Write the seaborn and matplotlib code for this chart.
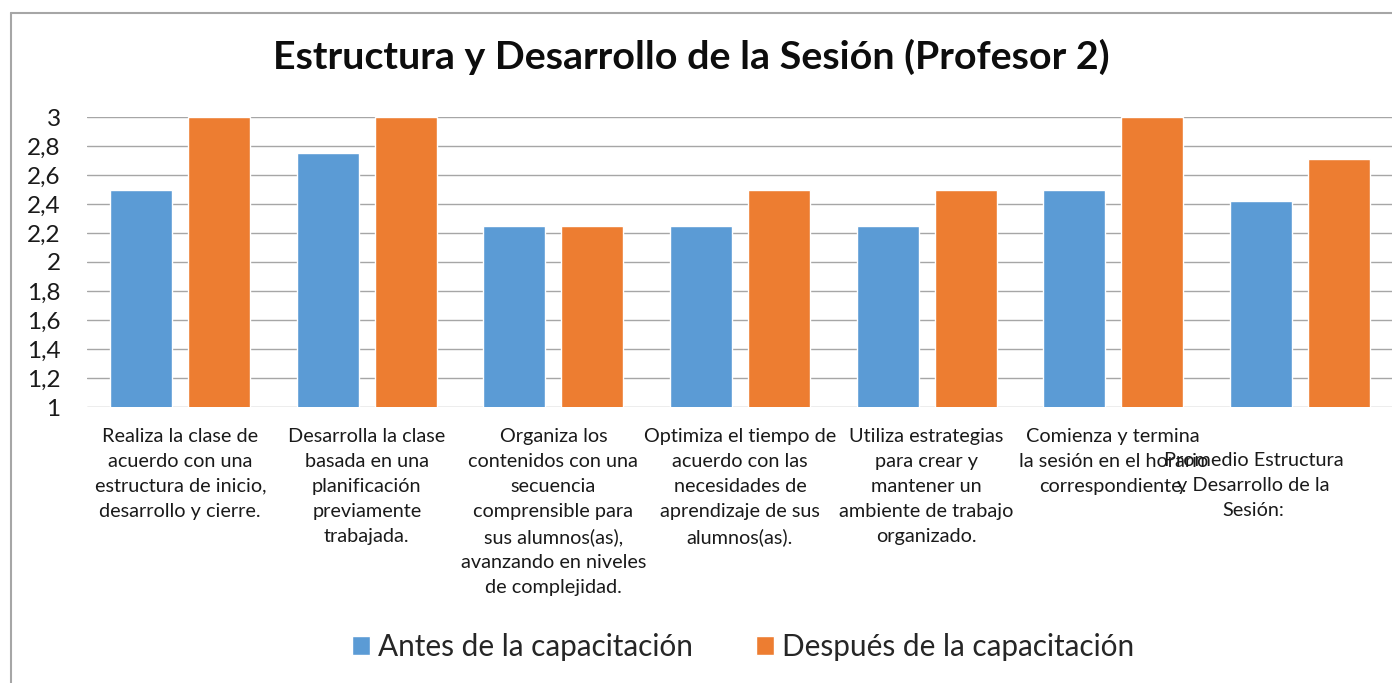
import numpy as np
import pandas as pd
import matplotlib
matplotlib.use("Agg")
import matplotlib.pyplot as plt
import matplotlib.transforms as mtransforms
from matplotlib.lines import Line2D
from matplotlib.ticker import FuncFormatter, MultipleLocator
import seaborn as sns

# --- data ---------------------------------------------------------------
categories = [
    "Realiza la clase de\nacuerdo con una\nestructura de inicio,\ndesarrollo y cierre.",
    "Desarrolla la clase\nbasada en una\nplanificación\npreviamente\ntrabajada.",
    "Organiza los\ncontenidos con una\nsecuencia\ncomprensible para\nsus alumnos(as),\navanzando en niveles\nde complejidad.",
    "Optimiza el tiempo de\nacuerdo con las\nnecesidades de\naprendizaje de sus\nalumnos(as).",
    "Utiliza estrategias\npara crear y\nmantener un\nambiente de trabajo\norganizado.",
    "Comienza y termina\nla sesión en el horario\ncorrespondiente.",
    "Promedio Estructura\ny Desarrollo de la\nSesión:",
]
antes = [2.5, 2.75, 2.25, 2.25, 2.25, 2.5, 2.42]
despues = [3.0, 3.0, 2.25, 2.5, 2.5, 3.0, 2.71]
series = ["Antes de la capacitación", "Después de la capacitación"]
colors = ["#5B9BD5", "#ED7D31"]
title = "Estructura y Desarrollo de la Sesión (Profesor 2)"

df = pd.DataFrame({
    "item": list(range(len(categories))) * 2,
    "valor": antes + despues,
    "serie": [series[0]] * len(antes) + [series[1]] * len(despues),
})

# --- style --------------------------------------------------------------
sns.set_theme(style="white")
plt.rcParams["font.family"] = ["Lato", "DejaVu Sans"]

W, H, DPI = 1392, 683, 100
fig = plt.figure(figsize=(W / DPI, H / DPI), dpi=DPI)
fig.patch.set_facecolor("white")

# plot area in pixel coordinates
left, right, top, bottom = 87, 1393, 117, 407
ax = fig.add_axes([left / W, 1 - bottom / H, (right - left) / W, (bottom - top) / H])
ax.set_facecolor("white")

sns.barplot(
    data=df, x="item", y="valor", hue="serie", hue_order=series,
    palette=colors, width=0.836, gap=0.205, saturation=1, ax=ax,
    order=list(range(len(categories))), zorder=3, legend=True,
)

ax.set_xlim(-0.5, len(categories) - 0.5)
ax.set_ylim(1, 3)
ax.yaxis.set_major_locator(MultipleLocator(0.2))
ax.yaxis.set_major_formatter(FuncFormatter(lambda v, p: f"{v:.1f}".rstrip("0").rstrip(".").replace(".", ",")))
ax.grid(axis="y", color="#A6A6A6", linewidth=1.0, zorder=0)
ax.set_axisbelow(True)
for s in ax.spines.values():
    s.set_visible(False)
ax.set_xlabel("")
ax.set_ylabel("")
ax.tick_params(axis="y", length=0, pad=19, labelsize=17.5, labelcolor="#1a1a1a")
ax.tick_params(axis="x", length=0, pad=15, labelsize=14.3, labelcolor="#1a1a1a")

ax.set_xticks(range(len(categories)))
ax.set_xticklabels(categories, ha="center", va="top", multialignment="center",
                   linespacing=1.57)
# the summary label sits a little to the left and one line lower
last = ax.get_xticklabels()[-1]
last.set_transform(last.get_transform() +
                   mtransforms.ScaledTranslation(-46 / DPI, -24.5 / DPI, fig.dpi_scale_trans))

# legend
handles, labels = ax.get_legend_handles_labels()
ax.legend_.remove()
fig.legend(handles, labels, loc="center", bbox_to_anchor=(743 / W, 1 - 647 / H),
           ncol=2, frameon=False, fontsize=21.4, handlelength=0.6, handleheight=0.6,
           handletextpad=0.25, columnspacing=2.15)

fig.text(691 / W, 1 - 57 / H, title, ha="center", va="center",
         fontsize=28.4, fontweight="bold", color="#0d0d0d")

# chart frame
fig.add_artist(Line2D([10.5 / W, 1], [1 - 12.5 / H, 1 - 12.5 / H],
                      transform=fig.transFigure, color="#A6A6A6", linewidth=1.5))
fig.add_artist(Line2D([10.5 / W, 10.5 / W], [0, 1 - 12.5 / H],
                      transform=fig.transFigure, color="#A6A6A6", linewidth=1.5))

fig.savefig("out.png", dpi=DPI, facecolor="white")
